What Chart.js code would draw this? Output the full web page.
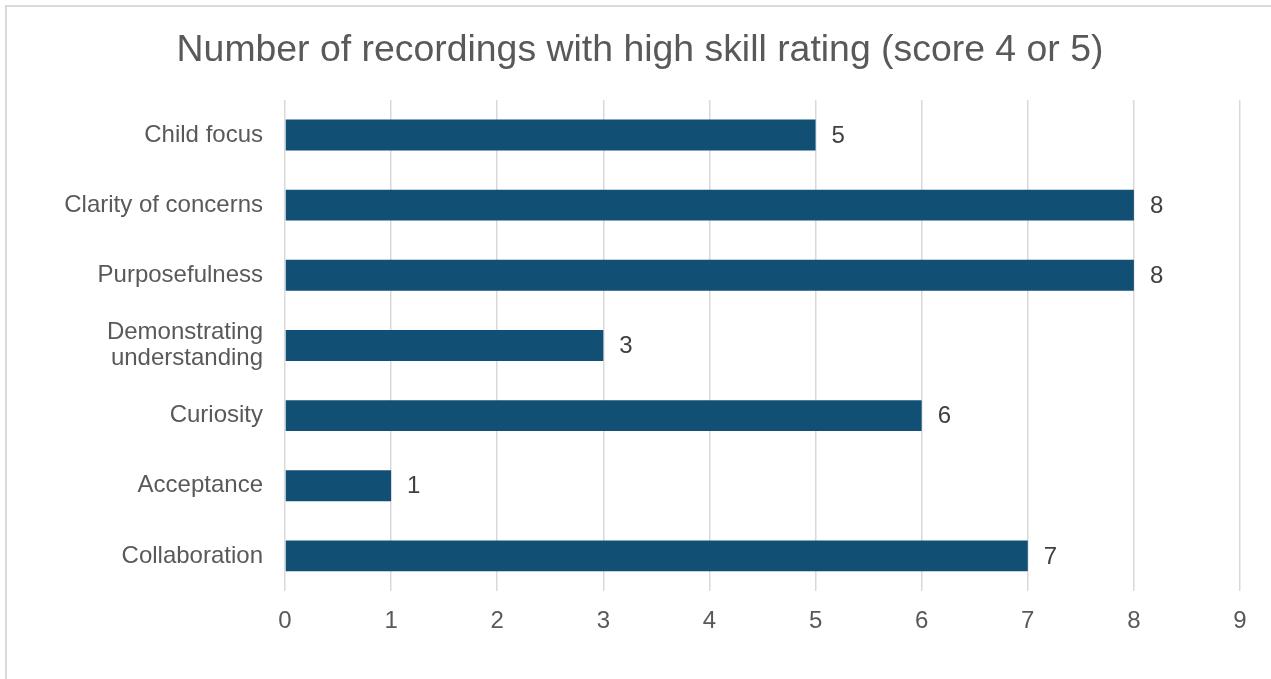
<!DOCTYPE html>
<html lang="en">

<head>
    <meta charset="utf-8" />
    <title>Number of recordings with high skill rating</title>
    <style>
        html,
        body {
            margin: 0;
            padding: 0;
            background: #fff;
            overflow: hidden;
        }

        .frame {
            position: absolute;
            left: 5px;
            top: 5px;
            width: 1400px;
            height: 800px;
            border: 2px solid #d9d9d9;
            box-sizing: border-box;
        }

        .chart-box {
            position: absolute;
            left: 0;
            top: 0;
            width: 1271px;
            height: 679px;
        }
    </style>
</head>

<body>
    <div class="frame"></div>
    <div class="chart-box">
        <canvas id="skillChart"></canvas>
    </div>

    <script src="https://cdn.jsdelivr.net/npm/chart.js@4.4.1/dist/chart.umd.min.js"></script>
    <script>
        const skills = [
            'Child focus',
            'Clarity of concerns',
            'Purposefulness',
            ['Demonstrating', 'understanding'],
            'Curiosity',
            'Acceptance',
            'Collaboration'
        ];
        const recordings = [5, 8, 8, 3, 6, 1, 7];
        const xTicks = [0, 1, 2, 3, 4, 5, 6, 7, 8, 9];

        const fontFamily = '"Liberation Sans", Arial, sans-serif';

        // value labels just past the end of each bar
        const barValueLabels = {
            id: 'barValueLabels',
            afterDatasetsDraw(chart) {
                const ctx = chart.ctx;
                const meta = chart.getDatasetMeta(0);
                ctx.save();
                ctx.font = '24px ' + fontFamily;
                ctx.fillStyle = '#404040';
                ctx.textAlign = 'left';
                ctx.textBaseline = 'middle';
                meta.data.forEach((bar, i) => {
                    ctx.fillText(String(recordings[i]), bar.x + 16, bar.y + 1);
                });
                ctx.restore();
            }
        };

        new Chart(document.getElementById('skillChart'), {
            type: 'bar',
            data: {
                labels: skills,
                datasets: [{
                    label: 'Recordings',
                    data: recordings,
                    backgroundColor: '#124f75',
                    borderWidth: 0,
                    barPercentage: 0.44,
                    categoryPercentage: 1.0
                }]
            },
            options: {
                indexAxis: 'y',
                responsive: true,
                maintainAspectRatio: false,
                animation: false,
                layout: {
                    padding: { left: 9, right: 0, top: 0, bottom: 0 }
                },
                plugins: {
                    legend: { display: false },
                    tooltip: { enabled: false },
                    title: {
                        display: true,
                        text: 'Number of recordings with high skill rating (score 4 or 5)',
                        color: '#595959',
                        font: { family: fontFamily, size: 37.4, weight: 'normal' },
                        padding: { top: 28, bottom: 27 }
                    }
                },
                scales: {
                    x: {
                        min: 0,
                        max: 9,
                        afterBuildTicks(scale) {
                            scale.ticks = xTicks.map(v => ({ value: v }));
                        },
                        afterFit(scale) {
                            scale.height = 88;
                            // keep the 9 gridline clear of the right edge
                            scale.paddingRight = 31;
                        },
                        border: { display: false },
                        grid: {
                            color: '#d9d9d9',
                            lineWidth: 1.5,
                            drawTicks: false
                        },
                        ticks: {
                            color: '#595959',
                            padding: 16,
                            font: { family: fontFamily, size: 24 }
                        }
                    },
                    y: {
                        afterFit(scale) {
                            scale.width = 276;
                        },
                        border: { display: false },
                        grid: { display: false, drawTicks: false },
                        ticks: {
                            color: '#595959',
                            padding: 22,
                            font: { family: fontFamily, size: 24, lineHeight: 1.1 }
                        }
                    }
                }
            },
            plugins: [barValueLabels]
        });
    </script>
</body>

</html>
